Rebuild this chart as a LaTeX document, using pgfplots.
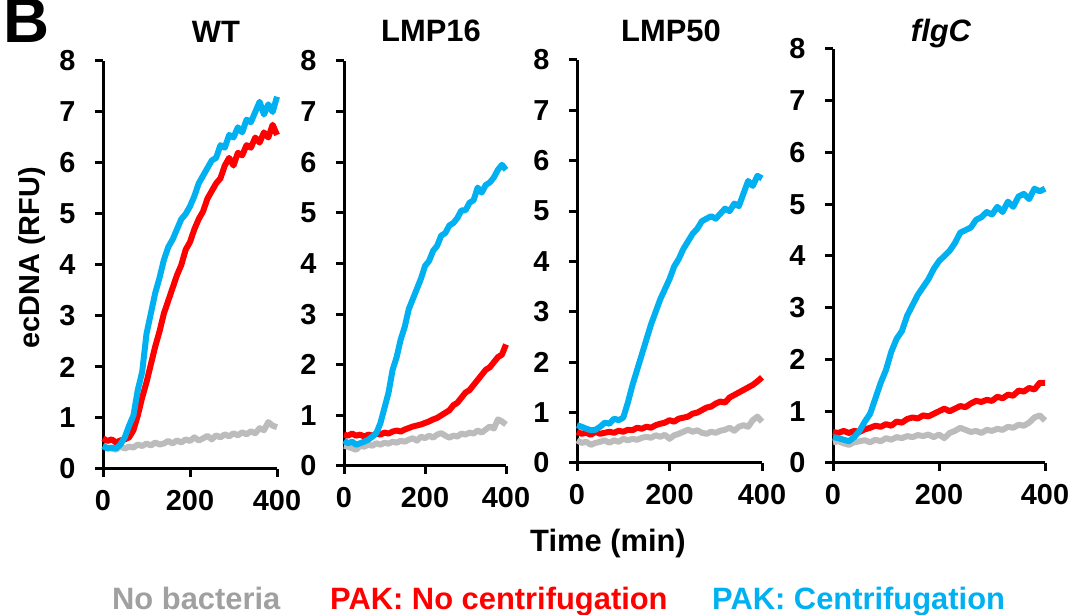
\documentclass[border=0pt]{standalone}
\usepackage{pgfplots}
\pgfplotsset{compat=1.18}
\usepackage{pgfplotstable}
\usepackage{fontspec}
\setmainfont{Liberation Sans}
\definecolor{cred}{RGB}{255,0,0}
\definecolor{cblue}{RGB}{0,176,240}
\definecolor{cgray}{RGB}{188,188,188}
\definecolor{tgray}{RGB}{160,160,160}

\pgfplotstableread{
t g r b
0 0.45 0.60 0.45
10 0.42 0.55 0.40
20 0.40 0.58 0.42
30 0.38 0.52 0.40
40 0.45 0.56 0.48
50 0.40 0.58 0.62
60 0.44 0.62 0.85
70 0.42 0.76 1.05
80 0.48 1.05 1.55
90 0.45 1.40 1.90
100 0.50 1.70 2.65
110 0.46 2.05 3.05
120 0.52 2.40 3.45
130 0.48 2.70 3.75
140 0.50 3.05 4.10
150 0.55 3.30 4.35
160 0.50 3.55 4.50
170 0.56 3.80 4.70
180 0.52 4.00 4.90
190 0.58 4.30 5.00
200 0.55 4.45 5.15
210 0.62 4.70 5.35
220 0.56 4.90 5.60
230 0.60 5.05 5.75
240 0.65 5.30 5.90
250 0.58 5.45 6.05
260 0.66 5.60 6.10
270 0.62 5.70 6.35
280 0.68 5.95 6.30
290 0.64 6.10 6.55
300 0.70 5.95 6.50
310 0.66 6.20 6.70
320 0.72 6.15 6.60
330 0.68 6.35 6.85
340 0.74 6.30 6.80
350 0.70 6.50 7.00
360 0.80 6.40 7.20
370 0.76 6.60 6.95
380 0.92 6.50 7.15
390 0.85 6.75 7.00
400 0.82 6.55 7.30
}\wt

\pgfplotstableread{
t g r b
0 0.40 0.62 0.50
10 0.38 0.60 0.45
20 0.35 0.64 0.48
30 0.32 0.60 0.42
40 0.40 0.62 0.45
50 0.38 0.58 0.48
60 0.42 0.62 0.52
70 0.40 0.60 0.58
80 0.45 0.64 0.65
90 0.42 0.62 0.85
100 0.46 0.66 1.15
110 0.44 0.64 1.45
120 0.48 0.68 1.90
130 0.46 0.70 2.15
140 0.50 0.68 2.50
150 0.48 0.72 2.75
160 0.52 0.75 3.10
170 0.55 0.78 3.30
180 0.50 0.80 3.50
190 0.58 0.82 3.70
200 0.55 0.85 3.95
210 0.60 0.88 4.05
220 0.56 0.92 4.25
230 0.62 0.95 4.35
240 0.65 1.00 4.55
250 0.60 1.05 4.60
260 0.56 1.10 4.75
270 0.60 1.20 4.80
280 0.58 1.25 4.90
290 0.64 1.35 5.05
300 0.62 1.45 5.05
310 0.66 1.50 5.20
320 0.64 1.60 5.25
330 0.70 1.70 5.50
340 0.66 1.80 5.40
350 0.72 1.90 5.55
360 0.78 1.95 5.60
370 0.74 2.05 5.70
380 0.92 2.15 5.85
390 0.88 2.20 5.95
400 0.82 2.40 5.85
}\lmpa

\pgfplotstableread{
t g r b
0 0.45 0.62 0.75
10 0.40 0.58 0.72
20 0.42 0.60 0.68
30 0.36 0.56 0.65
40 0.40 0.62 0.66
50 0.42 0.58 0.72
60 0.45 0.60 0.80
70 0.40 0.62 0.78
80 0.45 0.60 0.88
90 0.42 0.64 0.85
100 0.48 0.62 0.90
110 0.45 0.66 1.20
120 0.48 0.65 1.55
130 0.46 0.70 1.85
140 0.50 0.68 2.15
150 0.52 0.72 2.45
160 0.50 0.70 2.75
170 0.55 0.75 3.00
180 0.52 0.78 3.25
190 0.56 0.80 3.45
200 0.48 0.85 3.65
210 0.55 0.82 3.90
220 0.58 0.88 4.05
230 0.62 0.90 4.25
240 0.66 0.92 4.40
250 0.62 0.98 4.55
260 0.65 1.00 4.65
270 0.60 1.05 4.80
280 0.58 1.10 4.85
290 0.62 1.12 4.90
300 0.60 1.18 4.85
310 0.64 1.22 4.95
320 0.66 1.20 5.05
330 0.70 1.30 5.00
340 0.64 1.35 5.15
350 0.72 1.40 5.10
360 0.75 1.45 5.35
370 0.72 1.50 5.60
380 0.85 1.55 5.50
390 0.92 1.62 5.70
400 0.82 1.70 5.65
}\lmpb

\pgfplotstableread{
t g r b
0 0.40 0.60 0.50
10 0.42 0.58 0.48
20 0.38 0.62 0.45
30 0.35 0.58 0.42
40 0.40 0.62 0.50
50 0.42 0.60 0.62
60 0.44 0.65 0.80
70 0.40 0.68 0.95
80 0.45 0.72 1.25
90 0.42 0.70 1.55
100 0.48 0.75 1.80
110 0.45 0.72 2.15
120 0.50 0.80 2.40
130 0.48 0.78 2.55
140 0.52 0.85 2.85
150 0.50 0.88 3.05
160 0.54 0.86 3.25
170 0.52 0.92 3.40
180 0.55 0.90 3.55
190 0.50 0.95 3.75
200 0.55 1.00 3.90
210 0.48 1.05 4.00
220 0.58 1.00 4.10
230 0.62 1.05 4.25
240 0.68 1.10 4.45
250 0.64 1.08 4.50
260 0.60 1.15 4.55
270 0.62 1.20 4.70
280 0.58 1.18 4.75
290 0.64 1.22 4.85
300 0.62 1.20 4.80
310 0.66 1.28 4.95
320 0.64 1.25 4.85
330 0.70 1.32 5.05
340 0.68 1.30 4.95
350 0.74 1.40 5.15
360 0.72 1.38 5.20
370 0.78 1.45 5.10
380 0.88 1.42 5.30
390 0.92 1.55 5.25
400 0.82 1.55 5.30
}\flgc

\pgfplotsset{
  panel/.style={
    scale only axis,
    anchor=south west,
    xmin=0, xmax=400, ymin=0, ymax=8,
    xtick={0,200,400}, ytick={0,1,...,8},
    axis x line=bottom, axis y line=left,
    axis line style={line width=3bp,-},
    tick align=outside,
    major tick length=8bp,
    major tick style={line width=3bp,black},
    /pgf/number format/assume math mode=true,
    tick label style={font=\fontsize{29}{29}\selectfont\bfseries},
    yticklabel style={xshift=-16bp},
    xticklabel style={yshift=-10bp},
    clip=false,
  },
  gl/.style={color=cgray,line width=6bp,line join=round},
  rl/.style={color=cred,line width=6bp,line join=round},
  bl/.style={color=cblue,line width=6bp,line join=round},
}

\begin{document}
\begin{tikzpicture}[x=1bp,y=1bp]
\useasboundingbox (0,0) rectangle (1084,615);

\begin{axis}[panel, at={(103bp,146bp)}, width=174bp, height=408bp]
\addplot[gl] table[x=t,y=g]{\wt};
\addplot[rl] table[x=t,y=r]{\wt};
\addplot[bl] table[x=t,y=b]{\wt};
\end{axis}

\begin{axis}[panel, at={(344bp,149bp)}, width=162bp, height=405bp]
\addplot[gl] table[x=t,y=g]{\lmpa};
\addplot[rl] table[x=t,y=r]{\lmpa};
\addplot[bl] table[x=t,y=b]{\lmpa};
\end{axis}

\begin{axis}[panel, at={(577bp,152bp)}, width=185bp, height=403bp]
\addplot[gl] table[x=t,y=g]{\lmpb};
\addplot[rl] table[x=t,y=r]{\lmpb};
\addplot[bl] table[x=t,y=b]{\lmpb};
\end{axis}

\begin{axis}[panel, at={(833bp,152bp)}, width=212bp, height=414bp]
\addplot[gl] table[x=t,y=g]{\flgc};
\addplot[rl] table[x=t,y=r]{\flgc};
\addplot[bl] table[x=t,y=b]{\flgc};
\end{axis}

\node[anchor=base west,inner sep=0] at (3,572) {\fontsize{64}{64}\selectfont\bfseries B};
\node[anchor=base,inner sep=0] at (216,572) {\fontsize{31}{31}\selectfont\bfseries WT};
\node[anchor=base,inner sep=0] at (431,573) {\fontsize{31}{31}\selectfont\bfseries LMP16};
\node[anchor=base,inner sep=0] at (671,573) {\fontsize{31}{31}\selectfont\bfseries LMP50};
\node[anchor=base,inner sep=0] at (941,573) {\fontsize{31}{31}\selectfont\bfseries\itshape flgC};
\node[rotate=90,inner sep=0] at (32,357) {\fontsize{29}{29}\selectfont\bfseries ecDNA (RFU)};
\node[anchor=base,inner sep=0] at (608,63) {\fontsize{31}{31}\selectfont\bfseries Time (min)};
\node[anchor=base west,inner sep=0,text=tgray] at (112,5) {\fontsize{31}{31}\selectfont\bfseries No bacteria};
\node[anchor=base west,inner sep=0,text=cred] at (330,5) {\fontsize{31}{31}\selectfont\bfseries PAK: No centrifugation};
\node[anchor=base west,inner sep=0,text=cblue] at (712,5) {\fontsize{31}{31}\selectfont\bfseries PAK: Centrifugation};
\end{tikzpicture}
\end{document}
